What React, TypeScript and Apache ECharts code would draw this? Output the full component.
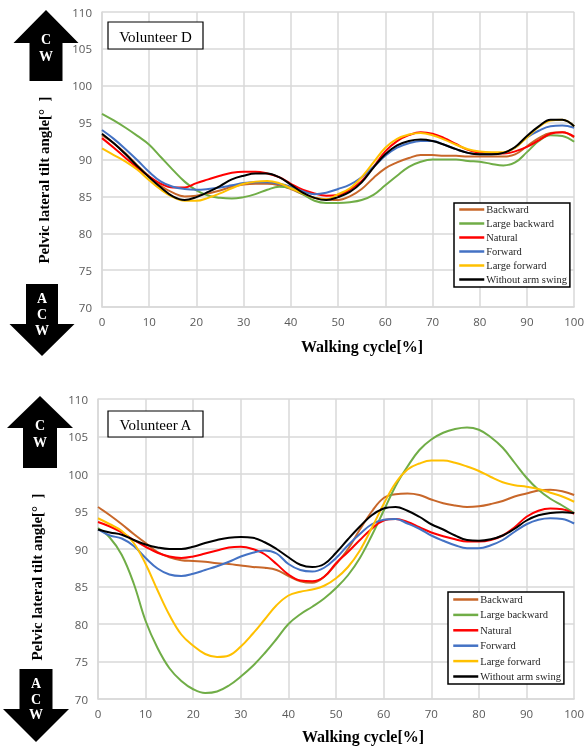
import React, { useEffect, useRef } from "react";
import * as echarts from "echarts";

const WALK = [0, 2.5, 5, 7.5, 10, 12.5, 15, 17.5, 20, 22.5, 25, 27.5, 30, 32.5, 35, 37.5, 40, 42.5, 45, 47.5, 50, 52.5, 55, 57.5, 60, 62.5, 65, 67.5, 70, 72.5, 75, 77.5, 80, 82.5, 85, 87.5, 90, 92.5, 95, 97.5, 100];

const SERIES_NAMES = ["Backward", "Large backward", "Natural", "Forward", "Large forward", "Without arm swing"];
const COLORS = ["#C8672A", "#70AD47", "#FF0000", "#4472C4", "#FFC000", "#000000"];

// Volunteer D (top)
const D_BACKWARD = [93.3, 92.2, 90.8, 89.2, 87.7, 86.4, 85.5, 85.0, 85.1, 85.4, 85.8, 86.3, 86.6, 86.7, 86.7, 86.5, 86.0, 85.3, 84.8, 84.6, 84.5, 85.0, 86.0, 87.5, 88.8, 89.6, 90.2, 90.6, 90.6, 90.5, 90.5, 90.4, 90.4, 90.4, 90.4, 90.7, 91.8, 92.9, 93.6, 93.7, 93.0];
const D_LARGE_BACKWARD = [96.2, 95.3, 94.3, 93.2, 92.0, 90.3, 88.6, 87.0, 85.8, 85.1, 84.8, 84.7, 84.9, 85.3, 85.9, 86.3, 86.1, 85.3, 84.4, 84.1, 84.1, 84.2, 84.5, 85.2, 86.5, 87.8, 89.0, 89.7, 90.0, 90.0, 90.0, 89.8, 89.7, 89.4, 89.2, 89.6, 91.0, 92.5, 93.3, 93.2, 92.4];
const D_NATURAL = [92.9, 91.6, 90.2, 88.9, 87.7, 86.7, 86.2, 86.2, 86.8, 87.3, 87.8, 88.2, 88.35, 88.35, 88.1, 87.6, 86.7, 85.9, 85.4, 85.1, 85.2, 85.9, 87.1, 89.0, 91.1, 92.5, 93.3, 93.7, 93.5, 92.9, 92.1, 91.3, 90.9, 90.8, 90.8, 91.1, 91.7, 92.6, 93.5, 93.7, 93.1];
const D_FORWARD = [94.0, 92.8, 91.4, 89.9, 88.3, 87.0, 86.3, 86.0, 85.9, 86.0, 86.2, 86.5, 86.8, 86.9, 86.9, 86.7, 86.3, 85.7, 85.3, 85.5, 86.0, 86.6, 87.6, 89.0, 90.5, 91.6, 92.2, 92.5, 92.5, 92.0, 91.4, 90.9, 90.7, 90.7, 90.9, 91.6, 93.0, 93.9, 94.5, 94.6, 94.3];
const D_LARGE_FORWARD = [91.5, 90.6, 89.7, 88.6, 87.2, 85.9, 84.9, 84.4, 84.4, 84.8, 85.4, 86.1, 86.7, 87.0, 87.1, 86.8, 86.1, 85.4, 84.8, 84.6, 85.3, 86.1, 87.6, 89.6, 91.6, 92.8, 93.4, 93.6, 93.3, 92.7, 92.0, 91.4, 91.1, 91.0, 91.0, 91.6, 93.0, 94.4, 95.3, 95.4, 94.5];
const D_NO_SWING = [93.5, 92.2, 90.7, 89.1, 87.6, 86.2, 85.0, 84.5, 84.9, 85.6, 86.4, 87.3, 87.8, 88.1, 88.1, 87.6, 86.6, 85.5, 84.8, 84.5, 84.9, 85.6, 86.9, 88.9, 90.7, 91.9, 92.5, 92.7, 92.5, 92.0, 91.4, 90.9, 90.7, 90.7, 90.9, 91.7, 93.2, 94.5, 95.4, 95.4, 94.5];

// Volunteer A (bottom)
const A_BACKWARD = [95.6, 94.5, 93.3, 92.0, 90.8, 89.6, 88.9, 88.5, 88.4, 88.3, 88.1, 88.0, 87.8, 87.6, 87.5, 87.2, 86.4, 85.7, 85.5, 86.3, 88.0, 90.0, 92.6, 95.0, 96.8, 97.3, 97.4, 97.2, 96.6, 96.1, 95.8, 95.6, 95.7, 96.0, 96.4, 97.0, 97.4, 97.8, 97.9, 97.7, 97.2];
const A_LARGE_BACKWARD = [92.8, 91.5, 89.2, 85.4, 80.4, 76.8, 74.1, 72.4, 71.3, 70.8, 71.0, 71.8, 73.0, 74.4, 76.1, 78.0, 80.0, 81.3, 82.3, 83.4, 84.8, 86.5, 88.8, 91.8, 95.1, 98.4, 101.0, 103.2, 104.6, 105.5, 106.0, 106.2, 105.9, 104.9, 103.5, 101.5, 99.5, 97.9, 96.7, 95.8, 94.8];
const A_NATURAL = [93.6, 93.0, 92.2, 91.2, 90.3, 89.5, 89.0, 88.8, 89.0, 89.4, 89.8, 90.2, 90.3, 90.0, 89.3, 88.0, 86.6, 85.8, 85.7, 86.3, 88.1, 89.6, 91.2, 92.7, 93.8, 94.0, 93.6, 92.9, 92.2, 91.7, 91.3, 91.0, 91.0, 91.2, 91.8, 92.9, 94.3, 95.1, 95.4, 95.3, 94.7];
const A_FORWARD = [92.6, 91.8, 91.4, 90.4, 88.8, 87.4, 86.6, 86.4, 86.7, 87.2, 87.7, 88.3, 89.0, 89.5, 89.8, 89.4, 88.0, 87.2, 87.0, 87.5, 88.8, 90.5, 92.0, 93.3, 93.9, 94.0, 93.4, 92.7, 91.8, 91.1, 90.5, 90.1, 90.1, 90.5, 91.2, 92.3, 93.3, 93.9, 94.1, 94.0, 93.4];
const A_LARGE_FORWARD = [94.1, 93.3, 92.4, 90.8, 88.0, 84.5, 81.2, 78.6, 77.1, 76.0, 75.6, 75.8, 77.0, 78.7, 80.6, 82.5, 83.8, 84.3, 84.6, 85.1, 86.1, 87.6, 89.8, 92.8, 96.0, 98.8, 100.6, 101.4, 101.8, 101.8, 101.5, 101.0, 100.4, 99.6, 98.9, 98.5, 98.3, 98.0, 97.5, 97.0, 96.3];
const A_NO_SWING = [92.6, 92.2, 91.9, 91.2, 90.6, 90.2, 90.0, 90.0, 90.3, 90.8, 91.2, 91.5, 91.6, 91.5, 90.9, 90.0, 88.9, 87.9, 87.6, 88.0, 89.5, 91.3, 93.0, 94.5, 95.4, 95.6, 95.1, 94.3, 93.3, 92.6, 91.8, 91.2, 91.1, 91.3, 91.8, 92.7, 93.8, 94.5, 94.8, 94.9, 94.8];

const X_TICKS = { min: 0, max: 100, interval: 10 };
const Y_TICKS = { min: 70, max: 110, interval: 5 };

const D_DATA = [D_BACKWARD, D_LARGE_BACKWARD, D_NATURAL, D_FORWARD, D_LARGE_FORWARD, D_NO_SWING];
const A_DATA = [A_BACKWARD, A_LARGE_BACKWARD, A_NATURAL, A_FORWARD, A_LARGE_FORWARD, A_NO_SWING];

const GRID_COLOR = "#d9d9d9";
const LABEL_COLOR = "#595959";
const SERIF = '"Liberation Serif", "Times New Roman", serif';
const SANS = '"Open Sans", "Liberation Sans", sans-serif';

function upArrow(tipX: number, tipY: number, headHalf: number, headBaseY: number, shaftHalf: number, bottomY: number, letters: string[], letterYs: number[]) {
  return [
    {
      type: "polygon",
      shape: {
        points: [
          [tipX, tipY],
          [tipX + headHalf, headBaseY],
          [tipX + shaftHalf, headBaseY],
          [tipX + shaftHalf, bottomY],
          [tipX - shaftHalf, bottomY],
          [tipX - shaftHalf, headBaseY],
          [tipX - headHalf, headBaseY],
        ],
      },
      style: { fill: "#000" },
    },
    ...letters.map((l, i) => ({
      type: "text",
      x: tipX,
      y: letterYs[i],
      style: { text: l, fill: "#fff", font: `bold 14px ${SERIF}`, textAlign: "center", textVerticalAlign: "middle", align: "center", verticalAlign: "middle" },
    })),
  ];
}

function downArrow(tipX: number, topY: number, shaftHalf: number, headBaseY: number, headHalf: number, tipY: number, letters: string[], letterYs: number[]) {
  return [
    {
      type: "polygon",
      shape: {
        points: [
          [tipX - shaftHalf, topY],
          [tipX + shaftHalf, topY],
          [tipX + shaftHalf, headBaseY],
          [tipX + headHalf, headBaseY],
          [tipX, tipY],
          [tipX - headHalf, headBaseY],
          [tipX - shaftHalf, headBaseY],
        ],
      },
      style: { fill: "#000" },
    },
    ...letters.map((l, i) => ({
      type: "text",
      x: tipX,
      y: letterYs[i],
      style: { text: l, fill: "#fff", font: `bold 14px ${SERIF}`, textAlign: "center", textVerticalAlign: "middle", align: "center", verticalAlign: "middle" },
    })),
  ];
}

function textEl(x: number, y: number, text: string, font: string, rotation = 0) {
  return {
    type: "text",
    x,
    y,
    rotation,
    style: { text, fill: "#000", font, textAlign: "center", textVerticalAlign: "middle", align: "center", verticalAlign: "middle" },
  };
}

function boxEl(x: number, y: number, w: number, h: number, text: string) {
  return [
    { type: "rect", shape: { x, y, width: w, height: h }, style: { fill: "#fff", stroke: "#000", lineWidth: 1.2 }, z: 10 },
    { ...textEl(x + w / 2, y + h / 2 + 1, text, `15px ${SERIF}`), z: 11 },
  ];
}

export default function App() {
  const ref = useRef<HTMLDivElement>(null);
  useEffect(() => {
    document.body.style.margin = "0";
    const chart = echarts.init(ref.current!, null, { renderer: "svg" });

    const xAxis = (gridIndex: number) => ({
      type: "value",
      gridIndex,
      ...X_TICKS,
      axisLine: { show: true, lineStyle: { color: GRID_COLOR, width: 1.5 } },
      axisTick: { show: false },
      splitLine: { show: true, lineStyle: { color: GRID_COLOR, width: 1.5 } },
      axisLabel: { color: LABEL_COLOR, fontSize: 11.5, fontFamily: SANS, margin: 8 },
    });
    const yAxis = (gridIndex: number) => ({
      type: "value",
      gridIndex,
      ...Y_TICKS,
      axisLine: { show: true, lineStyle: { color: GRID_COLOR, width: 1.5 } },
      axisTick: { show: false },
      splitLine: { show: true, lineStyle: { color: GRID_COLOR, width: 1.5 } },
      axisLabel: { color: LABEL_COLOR, fontSize: 11.5, fontFamily: SANS, margin: 10 },
    });

    const mkSeries = (data: number[][], idx: number) =>
      data.map((vals, i) => ({
        type: "line",
        name: SERIES_NAMES[i],
        xAxisIndex: idx,
        yAxisIndex: idx,
        data: WALK.map((w, k) => [w, vals[k]]),
        smooth: 0.4,
        symbol: "none",
        lineStyle: { width: 2, color: COLORS[i] },
        itemStyle: { color: COLORS[i] },
        z: 3 + i,
      }));

    const legend = (left: number, top: number, gap: number, padding: number[]) => ({
      orient: "vertical",
      left,
      top,
      data: SERIES_NAMES,
      itemWidth: 25,
      itemHeight: 11,
      itemGap: gap,
      padding,
      backgroundColor: "#fff",
      borderColor: "#000",
      borderWidth: 1.5,
      itemStyle: { opacity: 0 },
      lineStyle: { width: 2.5 },
      textStyle: { fontFamily: SERIF, fontSize: 10.5, color: "#262626", padding: [0, 0, 0, -3] },
      selectedMode: false,
    });

    chart.setOption({
      animation: false,
      color: COLORS,
      grid: [
        { left: 102, top: 12, width: 476, height: 295 },
        { left: 98, top: 399, width: 484, height: 300 },
      ],
      xAxis: [xAxis(0), xAxis(1)],
      yAxis: [yAxis(0), yAxis(1)],
      legend: [legend(454, 203, 3, [1, 3, 2, 4]), legend(448, 592, 4.4, [2, 3, 2, 4])],
      series: [...mkSeries(D_DATA, 0), ...mkSeries(A_DATA, 1)],
      graphic: [
        ...upArrow(46, 10, 32.5, 43, 16.5, 81, ["C", "W"], [39, 56]),
        ...downArrow(42, 284, 16, 324, 32.5, 356, ["A", "C", "W"], [298, 314, 330]),
        ...upArrow(40, 396, 33, 428, 17, 468, ["C", "W"], [425, 442]),
        ...downArrow(36, 669, 16.5, 709, 33, 742, ["A", "C", "W"], [683, 699, 714]),
        textEl(44, 180, "Pelvic lateral tilt angle[°  ]", `bold 15px ${SERIF}`, Math.PI / 2),
        textEl(37, 577, "Pelvic lateral tilt angle[°  ]", `bold 15px ${SERIF}`, Math.PI / 2),
        textEl(362, 346, "Walking cycle[%]", `bold 16px ${SERIF}`),
        textEl(363, 736, "Walking cycle[%]", `bold 16px ${SERIF}`),
        ...boxEl(108, 22, 95, 27, "Volunteer D"),
        ...boxEl(108, 411, 95, 26, "Volunteer A"),
      ],
    });
    return () => chart.dispose();
  }, []);
  return <div ref={ref} style={{ position: "fixed", left: 0, top: 0, width: 587, height: 746 }} />;
}
